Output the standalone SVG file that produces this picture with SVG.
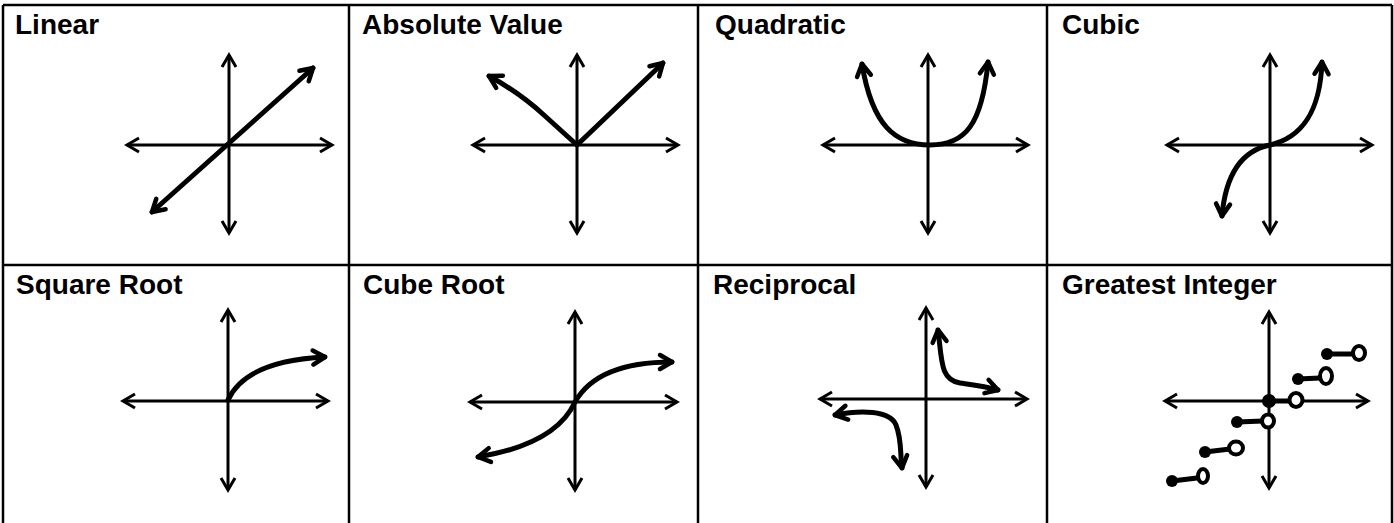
<svg xmlns="http://www.w3.org/2000/svg" width="1394" height="523" viewBox="0 0 1394 523">
<style>
.grid{stroke:#000;stroke-width:2.5;fill:none}
.lbl{font-family:"Liberation Sans",Arial,sans-serif;font-weight:bold;font-size:28px;fill:#000}
.ax{stroke:#000;stroke-width:3;fill:none;marker-start:url(#ah);marker-end:url(#ah)}
.cv{stroke:#000;stroke-width:5;fill:none;stroke-linecap:round;stroke-linejoin:round}
.both{marker-start:url(#ahc);marker-end:url(#ahc)}
.end{marker-end:url(#ahc)}
.dot{fill:#000}
.open{fill:#fff;stroke:#000;stroke-width:4}
.seg{stroke:#000;stroke-width:5;stroke-linecap:round}
</style>
<defs>
<marker id="ah" viewBox="0 0 16 16" refX="14" refY="8" markerWidth="16" markerHeight="16" markerUnits="userSpaceOnUse" orient="auto-start-reverse" overflow="visible">
<path d="M2,1 L14,8 L2,15" fill="none" stroke="#000" stroke-width="3" stroke-linejoin="miter"/>
</marker>
<marker id="ahc" viewBox="0 0 16 16" refX="14" refY="8" markerWidth="16" markerHeight="16" markerUnits="userSpaceOnUse" orient="auto-start-reverse" overflow="visible">
<path d="M2,1 L14,8 L2,15" fill="none" stroke="#000" stroke-width="4.5" stroke-linejoin="round" stroke-linecap="round"/>
</marker>
</defs>
<rect width="1394" height="523" fill="#fff"/>
<g id="grid" class="grid">
<path d="M3,5 H1392 M3,265 H1392"/>
<path d="M3,5 V523 M349,5 V523 M698,5 V523 M1047,5 V523 M1392,5 V523"/>
</g>
<g id="linear">
<text class="lbl" x="15" y="34">Linear</text>
<path class="ax" d="M229,55 V233"/>
<path class="ax" d="M127,145 H332"/>
<path class="cv both" d="M152,212 L313,68"/>
</g>
<g id="absolute-value">
<text class="lbl" x="362" y="34">Absolute Value</text>
<path class="ax" d="M577,55 V233"/>
<path class="ax" d="M473,145 H678"/>
<path class="cv end" d="M577,145 L663,63"/>
<path class="cv end" d="M577,145 L545,116 Q520,93 489,76"/>
</g>
<g id="quadratic">
<text class="lbl" x="715" y="34">Quadratic</text>
<path class="ax" d="M928,55 V233"/>
<path class="ax" d="M823,145 H1028"/>
<path class="cv both" d="M862,64 C872,125 895,145 930,145 C965,145 982,125 988,62"/>
</g>
<g id="cubic">
<text class="lbl" x="1062" y="34">Cubic</text>
<path class="ax" d="M1270,55 V233"/>
<path class="ax" d="M1167,145 H1372"/>
<path class="cv both" d="M1222,216 C1226,170 1245,150 1270,145 C1300,138 1320,115 1322,62"/>
</g>
<g id="square-root">
<text class="lbl" x="16" y="294">Square Root</text>
<path class="ax" d="M228,310 V490"/>
<path class="ax" d="M123,401 H328"/>
<path class="cv end" d="M228,400 C238,378 265,360 325,357"/>
</g>
<g id="cube-root">
<text class="lbl" x="363" y="294">Cube Root</text>
<path class="ax" d="M575,312 V490"/>
<path class="ax" d="M470,402 H677"/>
<path class="cv both" d="M478,457 C520,450 560,435 575,402 C592,372 630,362 672,362"/>
</g>
<g id="reciprocal">
<text class="lbl" x="713" y="294">Reciprocal</text>
<path class="ax" d="M926,308 V487"/>
<path class="ax" d="M820,399 H1027"/>
<path class="cv both" d="M938,330 C942,360 940,380 960,383 C975,385 985,386 998,390"/>
<path class="cv both" d="M835,415 C860,410 890,410 896,425 C902,440 900,455 902,468"/>
</g>
<g id="greatest-integer">
<text class="lbl" x="1062" y="294">Greatest Integer</text>
<path class="ax" d="M1269,312 V488"/>
<path class="ax" d="M1165,401 H1368"/>
<g>
<path class="seg" d="M1327,354 L1353,354"/>
<circle class="dot" cx="1327" cy="354" r="6"/>
<ellipse class="open" cx="1359" cy="353" rx="6" ry="7"/>
<path class="seg" d="M1298,379 L1320,378"/>
<circle class="dot" cx="1298" cy="379" r="6"/>
<ellipse class="open" cx="1326" cy="376" rx="6" ry="8"/>
<path class="seg" d="M1269,401 L1290,401"/>
<circle class="dot" cx="1269" cy="401" r="7"/>
<ellipse class="open" cx="1296" cy="400" rx="6.5" ry="7"/>
<path class="seg" d="M1237,422 L1263,421"/>
<circle class="dot" cx="1237" cy="422" r="6"/>
<ellipse class="open" cx="1268" cy="421" rx="6" ry="6.5"/>
<path class="seg" d="M1205,452 L1230,449"/>
<circle class="dot" cx="1205" cy="452" r="6"/>
<ellipse class="open" cx="1236" cy="448" rx="7" ry="6.5"/>
<path class="seg" d="M1172,481 L1197,478"/>
<circle class="dot" cx="1172" cy="481" r="6"/>
<ellipse class="open" cx="1203" cy="476" rx="5" ry="7"/>
</g>
</g>
</svg>
